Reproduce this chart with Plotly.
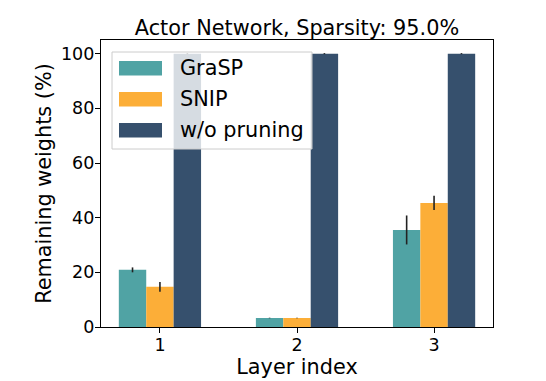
import plotly.graph_objects as go

layers = [1, 2, 3]
series_names = ["GraSP", "SNIP", "w/o pruning"]
grasp_vals = [20.9, 3.3, 35.5]
grasp_err = [0.9, 0.1, 5.3]
snip_vals = [14.7, 3.3, 45.4]
snip_err = [1.8, 0.1, 2.6]
full_vals = [100.0, 100.0, 100.0]
full_err = [0.2, 0.2, 0.2]
colors = ["#50a3a4", "#fcae38", "#36506d"]
y_ticks = [0, 20, 40, 60, 80, 100]

FONT = "DejaVu Sans"

fig = go.Figure()
for name, vals, errs, col in zip(series_names, [grasp_vals, snip_vals, full_vals],
                                 [grasp_err, snip_err, full_err], colors):
    fig.add_trace(go.Bar(
        x=layers, y=vals, name=name, marker=dict(color=col, line=dict(width=0)),
        error_y=dict(type="data", array=errs, visible=True, color="#222222",
                     thickness=1.6, width=0),
        showlegend=False,
    ))

# page has an 8px body margin; compensate
OFF = 8
W, H = 546 - OFF, 381 - OFF
L, R, T, B = 101 - OFF, 53, 40 - OFF, 54
pw, ph = W - L - R, H - T - B


def px_x(x):
    # x in reference screen pixels
    return (x - OFF - L) / pw


def px_y(y):
    return (H - B - (y - OFF)) / ph


shapes = []
annotations = []
# legend box
shapes.append(dict(type="rect", xref="paper", yref="paper",
                   x0=px_x(112), x1=px_x(312), y0=px_y(149), y1=px_y(52),
                   fillcolor="rgba(255,255,255,0.8)", line=dict(color="#cccccc", width=1),
                   layer="above"))
rows = [68.3, 99.3, 130.2]
for name, col, yc in zip(series_names, colors, rows):
    shapes.append(dict(type="rect", xref="paper", yref="paper",
                       x0=px_x(119), x1=px_x(162), y0=px_y(yc + 7.3), y1=px_y(yc - 7.3),
                       fillcolor=col, line=dict(width=0), layer="above"))
    annotations.append(dict(text=name, xref="paper", yref="paper",
                            x=px_x(178), y=px_y(yc), xanchor="left", yanchor="middle",
                            showarrow=False, font=dict(family=FONT, size=20.8, color="black")))

fig.update_layout(
    width=W, height=H,
    margin=dict(l=L, r=R, t=T, b=B, autoexpand=False),
    paper_bgcolor="white", plot_bgcolor="white",
    barmode="group", bargap=0.4, bargroupgap=0,
    font=dict(family=FONT, color="black"),
    title=dict(text="Actor Network, Sparsity: 95.0%", x=0.5, xref="paper",
               y=1 - (27.5 - OFF) / H, yref="container", xanchor="center", yanchor="middle",
               font=dict(family=FONT, size=20.8, color="black")),
    shapes=shapes, annotations=annotations,
    showlegend=False,
)
fig.update_xaxes(
    range=[0.57, 3.43], tickvals=layers, ticktext=[str(v) for v in layers],
    ticks="outside", ticklen=5, tickwidth=1, tickcolor="black",
    showline=True, linecolor="black", linewidth=1.2, mirror=True,
    showgrid=False, zeroline=False, automargin=False, ticklabelstandoff=-3,
    tickfont=dict(family=FONT, size=17.5, color="black"),
    title=dict(text="Layer index", standoff=0, font=dict(family=FONT, size=20.8, color="black")),
)
fig.update_yaxes(
    range=[0, 105], tickvals=y_ticks, ticktext=[str(v) for v in y_ticks],
    ticks="outside", ticklen=5, tickwidth=1, tickcolor="black",
    showline=True, linecolor="black", linewidth=1.2, mirror=True,
    showgrid=False, zeroline=False, automargin=False, ticklabelstandoff=-3,
    tickfont=dict(family=FONT, size=17.5, color="black"),
    title=dict(text="Remaining weights (%)", standoff=3, font=dict(family=FONT, size=20.8, color="black")),
)

fig.write_html("out.html")
